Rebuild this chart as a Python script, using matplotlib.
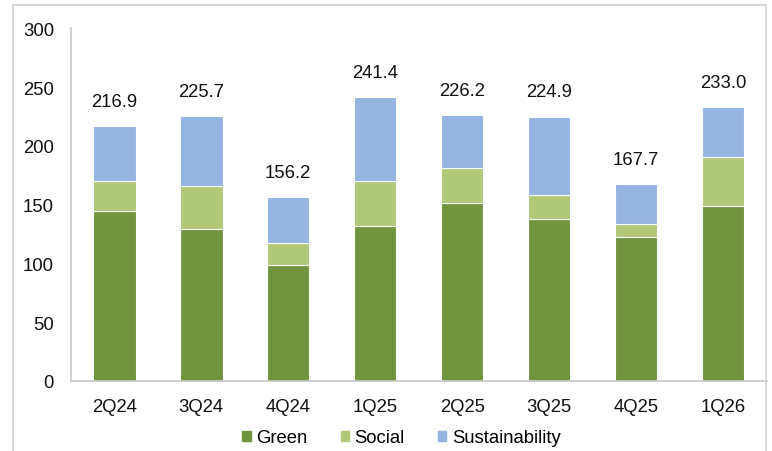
import matplotlib.pyplot as plt
from matplotlib.patches import Patch, Rectangle

quarters = ['2Q24', '3Q24', '4Q24', '1Q25', '2Q25', '3Q25', '4Q25', '1Q26']
green = [144.5, 129.6, 98.5, 131.9, 151.5, 137.9, 122.3, 149.2]
social = [26.0, 36.1, 18.7, 38.1, 30.0, 20.1, 11.0, 41.2]
totals = [216.9, 225.7, 156.2, 241.4, 226.2, 224.9, 167.7, 233.0]
sustainability = [t - g - s for t, g, s in zip(totals, green, social)]

c_green = '#71943E'
c_social = '#B0C878'
c_sust = '#95B4E0'

plt.rcParams['font.family'] = ['Liberation Sans', 'DejaVu Sans']
fs = 13.3

fig = plt.figure(figsize=(7.72, 4.52), dpi=100)
ax = fig.add_axes([0.0916, 0.1549, 0.9014, 0.7801])

x = range(len(quarters))
w = 0.49
ax.bar(x, green, w, color=c_green, edgecolor='white', linewidth=0.8)
ax.bar(x, social, w, bottom=green, color=c_social, edgecolor='white', linewidth=0.8)
bottom2 = [g + s for g, s in zip(green, social)]
ax.bar(x, sustainability, w, bottom=bottom2, color=c_sust, edgecolor='white', linewidth=0.8)

for i, t in enumerate(totals):
    ax.text(i, t + 21, '%.1f' % t, ha='center', va='center', fontsize=fs, color='#111111')

ax.set_xlim(-0.5, len(quarters) - 0.5)
ax.set_ylim(0, 300)
ax.set_yticks(range(0, 301, 50))
ax.set_xticks(list(x))
ax.set_xticklabels(quarters)
ax.tick_params(axis='both', length=0, labelsize=fs, colors='#111111')
ax.tick_params(axis='y', pad=12)
ax.tick_params(axis='x', pad=12)
for side in ['top', 'right']:
    ax.spines[side].set_visible(False)
for side in ['left', 'bottom']:
    ax.spines[side].set_color('#C8C8C8')
    ax.spines[side].set_linewidth(1.2)

handles = [Patch(color=c_green, label='Green'),
           Patch(color=c_social, label='Social'),
           Patch(color=c_sust, label='Sustainability')]
fig.legend(handles=handles, loc='center', bbox_to_anchor=(0.52, 0.029), ncol=3,
           frameon=False, fontsize=fs, handlelength=0.45, handleheight=0.45,
           handletextpad=0.3, columnspacing=1.8)

# outer frame around the chart
fig.patches.append(Rectangle((13 / 772, -0.02), (765.5 - 13) / 772, 1.02 - 5.5 / 452 + 0.0,
                             transform=fig.transFigure, fill=False,
                             edgecolor='#D0D0D0', linewidth=1.2))

fig.savefig('out.png', dpi=100)
